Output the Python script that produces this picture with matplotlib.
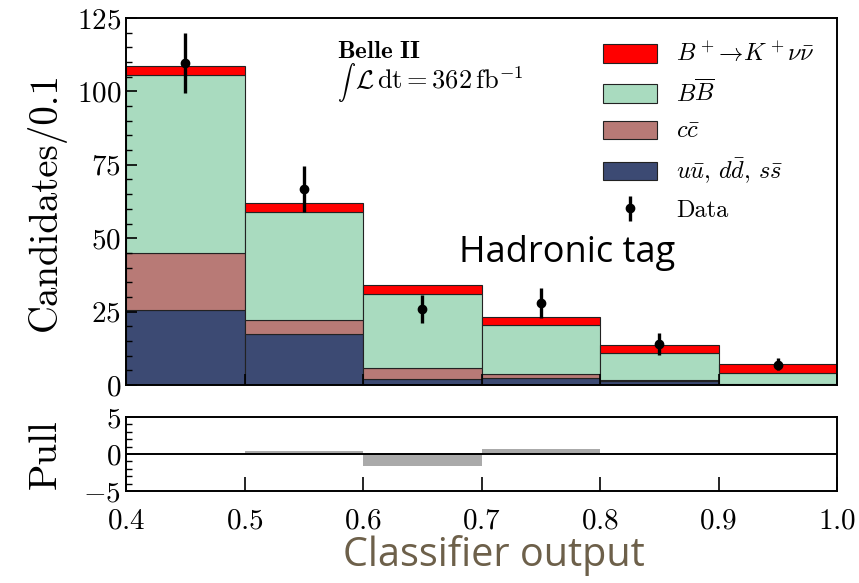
import numpy as np
import matplotlib
matplotlib.use("Agg")
import matplotlib.pyplot as plt
from matplotlib.ticker import MultipleLocator

plt.rcParams["font.family"] = "cmr10"
plt.rcParams["mathtext.fontset"] = "cm"
plt.rcParams["axes.formatter.use_mathtext"] = True
plt.rcParams["axes.unicode_minus"] = True

# ---------- data ----------
edges = [0.4, 0.5, 0.6, 0.7, 0.8, 0.9, 1.0]
qq = [25.6, 17.4, 1.9, 2.3, 1.2, 0.1]
cc = [19.4, 4.6, 3.8, 1.4, 0.5, 0.2]
bb = [60.5, 37.0, 25.3, 16.7, 9.1, 3.9]
sig = [3.0, 3.0, 3.1, 2.9, 2.8, 3.0]
data = [109.6, 66.8, 25.9, 27.9, 13.9, 6.8]
err_lo = [10.3, 8.0, 4.9, 5.1, 3.7, 1.7]
err_hi = [10.2, 7.9, 4.8, 5.1, 3.7, 2.3]
pull = [0.0, 0.4, -1.6, 0.7, 0.0, 0.0]

labels = [r"$B^+\!\rightarrow\!K^+\nu\bar{\nu}$", r"$B\overline{B}$",
          r"$c\bar{c}$", r"$u\bar{u},\,d\bar{d},\,s\bar{s}$"]
colors = ["#ff0000", "#a9dbbf", "#b87a76", "#3c4a73"]

left = np.array(edges[:-1])
width = np.diff(edges)
centers = left + width / 2

fig = plt.figure(figsize=(8.59, 5.83), dpi=100)
ax = fig.add_axes([0.1467, 0.3396, 0.8277, 0.6295])
axp = fig.add_axes([0.1467, 0.1578, 0.8277, 0.1269])

# stacked histogram, bottom-up
bottom = np.zeros(len(qq))
handles = {}
for vals, lab, col in [(qq, labels[3], colors[3]), (cc, labels[2], colors[2]),
                       (bb, labels[1], colors[1]), (sig, labels[0], colors[0])]:
    h = ax.bar(left, vals, width=width, bottom=bottom, align="edge",
               color=col, edgecolor="#222222", linewidth=0.8)
    handles[lab] = h
    bottom = bottom + np.array(vals)

eb = ax.errorbar(centers, data, yerr=[err_lo, err_hi], fmt="o", color="black",
                 ms=6, elinewidth=2.4, capsize=0)

leg = ax.legend([handles[l] for l in labels] + [eb], labels + ["Data"],
                loc="upper right", frameon=False, fontsize=17.5,
                handlelength=2.2, handleheight=0.8, labelspacing=0.55,
                handletextpad=0.8, bbox_to_anchor=(1.0, 0.995))

ax.text(0.297, 0.907, r"$\mathbf{Belle\ II}$", transform=ax.transAxes,
        fontsize=18, va="center")
ax.text(0.297, 0.823, r"$\int$", transform=ax.transAxes,
        fontsize=13, va="center")
ax.text(0.322, 0.83, r"$\mathcal{L}\,\mathrm{dt} = 362\,\mathrm{fb}^{-1}$",
        transform=ax.transAxes, fontsize=19, va="center")

ax.set_xlim(0.4, 1.0)
ax.set_ylim(0, 125)
ax.yaxis.set_major_locator(MultipleLocator(25))
ax.yaxis.set_minor_locator(MultipleLocator(5))
ax.xaxis.set_major_locator(MultipleLocator(0.1))
ax.tick_params(axis="both", which="major", direction="in", length=8, width=1.2,
               labelsize=21)
ax.tick_params(axis="y", which="minor", direction="in", length=4, width=1)
ax.tick_params(axis="x", labelbottom=False)
ax.set_ylabel("Candidates/0.1", fontsize=28, labelpad=8)
for s in ax.spines.values():
    s.set_linewidth(1.4)

# pull panel
axp.bar(left, pull, width=width, align="edge", color="#aaaaaa")
axp.axhline(0, color="black", lw=1.4)
axp.set_xlim(0.4, 1.0)
axp.set_ylim(-5, 5)
axp.set_yticks([-5, 0, 5])
axp.yaxis.set_minor_locator(MultipleLocator(1))
axp.xaxis.set_major_locator(MultipleLocator(0.1))
axp.tick_params(axis="both", which="major", direction="in", length=10, width=1.2,
                labelsize=21)
axp.tick_params(axis="x", pad=12)
axp.tick_params(axis="y", which="minor", direction="in", length=4, width=1)
axp.set_ylabel("Pull", fontsize=28, labelpad=14)
for s in axp.spines.values():
    s.set_linewidth(1.4)
axp.xaxis.set_major_formatter(plt.FuncFormatter(lambda v, p: f"${v:.1f}$"))

fig.text(567 / 859, 1 - 253 / 583, "Hadronic tag", fontsize=26,
         family="Open Sans", ha="center", va="center", color="black")
fig.text(494 / 859, 1 - 555 / 583, "Classifier output", fontsize=28.5,
         family="Open Sans", ha="center", va="center", color="#6d604a")

fig.savefig("out.png", dpi=100)
